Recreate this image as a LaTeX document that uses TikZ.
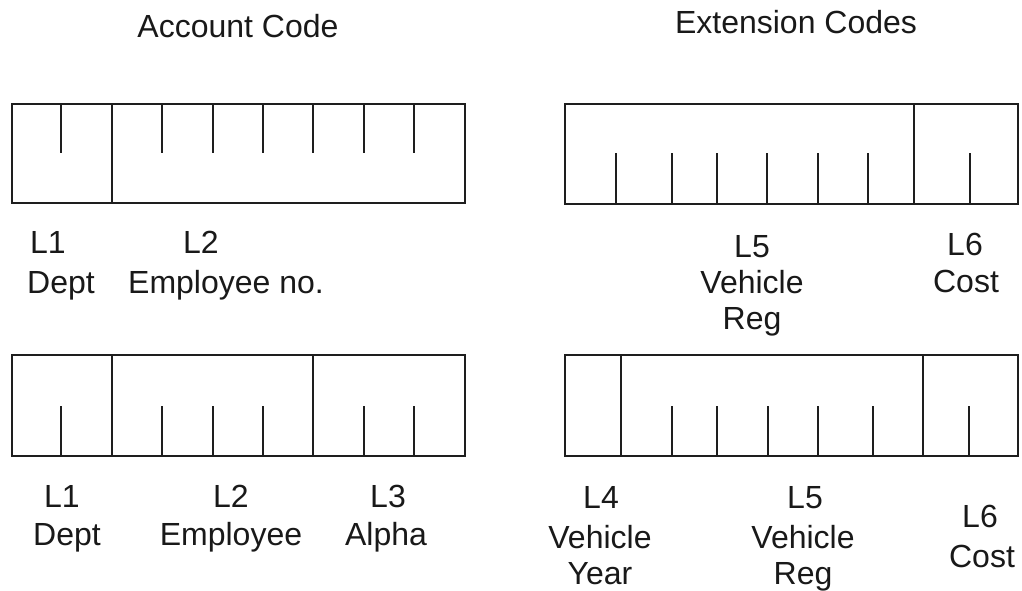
\documentclass[tikz,border=0pt]{standalone}
\usepackage{fontspec}
\setmainfont{Liberation Sans}
\begin{document}
\begin{tikzpicture}[x=1pt,y=-1pt,
  ink/.style={draw={rgb,255:red,30;green,30;blue,30}},
  frame/.style={ink,line width=2.8pt},
  tick/.style={ink,line width=2.5pt},
  lbl/.style={anchor=base,inner sep=0pt,text={rgb,255:red,25;green,25;blue,25},font=\fontsize{32}{38}\selectfont}]
\useasboundingbox (0,0) rectangle (1022,590);

% titles
\node[lbl] (tAcc) at (238,37) {Account Code};
\node[lbl] (tExt) at (796,33) {Extension Codes};

% box 1 (top left)
\draw[frame] (12,104) rectangle (465,203);
\draw[frame] (112,104) -- (112,203);
\foreach \x in {61,162,213,263,313,364,414}
  \draw[tick] (\x,104) -- (\x,153);

% box 2 (top right)
\draw[frame] (565,104) rectangle (1018,204);
\draw[frame] (914,104) -- (914,204);
\foreach \x in {616,672,717,767,818,868,970}
  \draw[tick] (\x,204) -- (\x,153);

% box 3 (bottom left)
\draw[frame] (12,355) rectangle (465,456);
\draw[frame] (112,355) -- (112,456);
\draw[frame] (313,355) -- (313,456);
\foreach \x in {61,162,213,263,364,414}
  \draw[tick] (\x,456) -- (\x,406);

% box 4 (bottom right)
\draw[frame] (565,355) rectangle (1018,456);
\draw[frame] (621,355) -- (621,456);
\draw[frame] (923,355) -- (923,456);
\foreach \x in {672,717,768,818,873,969}
  \draw[tick] (\x,456) -- (\x,406);

% labels top left
\node[lbl] (aL1) at (48,253) {L1};
\node[lbl] (aD) at (61,293) {Dept};
\node[lbl] (aL2) at (201,253) {L2};
\node[lbl] (aE) at (226,293) {Employee no.};

% labels top right
\node[lbl] (bL5) at (752,257) {L5};
\node[lbl] (bV) at (752,293) {Vehicle};
\node[lbl] (bR) at (752,329) {Reg};
\node[lbl] (bL6) at (965,255) {L6};
\node[lbl] (bC) at (966,292) {Cost};

% labels bottom left
\node[lbl] (cL1) at (62,507) {L1};
\node[lbl] (cD) at (67,545) {Dept};
\node[lbl] (cL2) at (231,507) {L2};
\node[lbl] (cE) at (231,545) {Employee};
\node[lbl] (cL3) at (388,507) {L3};
\node[lbl] (cA) at (386,545) {Alpha};

% labels bottom right
\node[lbl] (dL4) at (601,508) {L4};
\node[lbl] (dV) at (600,548) {Vehicle};
\node[lbl] (dY) at (600,584) {Year};
\node[lbl] (dL5) at (805,508) {L5};
\node[lbl] (dV5) at (803,548) {Vehicle};
\node[lbl] (dR) at (803,584) {Reg};
\node[lbl] (dL6) at (980,527) {L6};
\node[lbl] (dC) at (982,567) {Cost};
\end{tikzpicture}
\end{document}
